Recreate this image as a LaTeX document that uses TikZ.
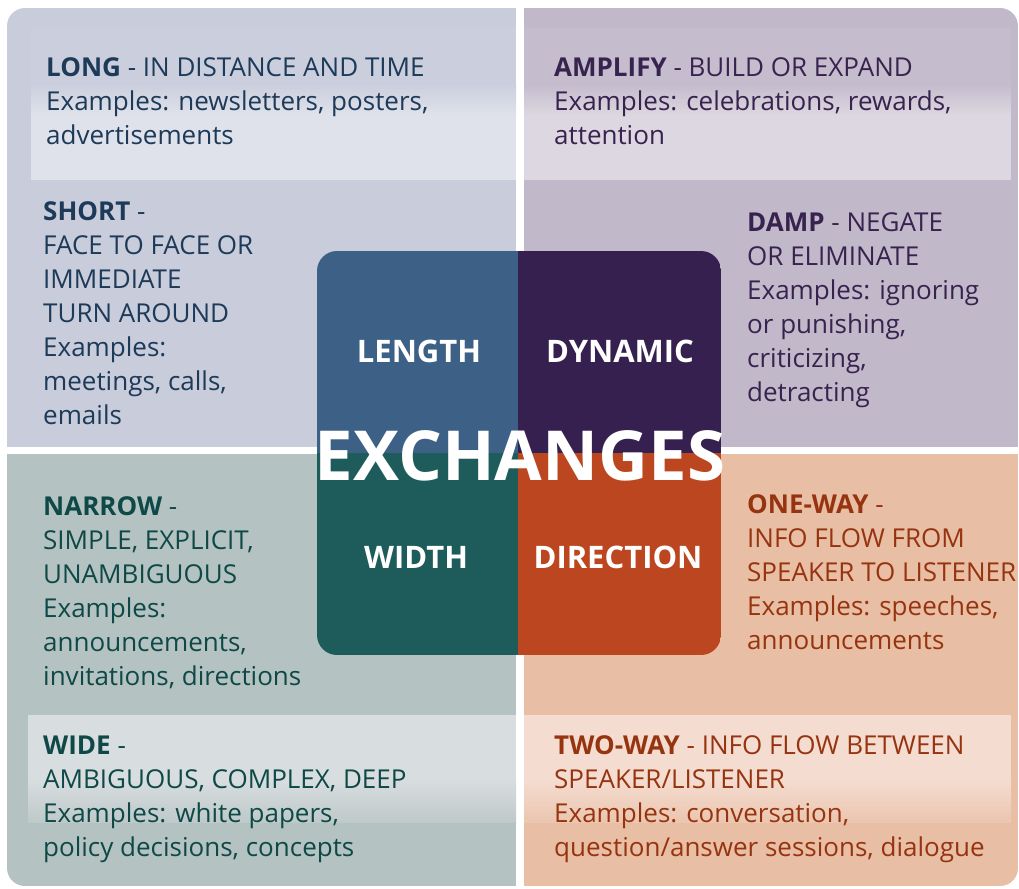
\documentclass[tikz,border=0pt]{standalone}
\usepackage{fontspec}
\setmainfont{Open Sans}
\usetikzlibrary{positioning}
\definecolor{lenpanel}{HTML}{C8CCDB}
\definecolor{lenlight}{HTML}{DFE2EA}
\definecolor{lencore}{HTML}{3D6186}
\definecolor{lentext}{HTML}{1D3A58}
\definecolor{dynpanel}{HTML}{C1B8CA}
\definecolor{dynlight}{HTML}{DCD7E0}
\definecolor{dyncore}{HTML}{352050}
\definecolor{dyntext}{HTML}{38234F}
\definecolor{widpanel}{HTML}{B5C2C2}
\definecolor{widlight}{HTML}{D8DDDF}
\definecolor{widcore}{HTML}{1E5B5B}
\definecolor{widtext}{HTML}{0E4947}
\definecolor{dirpanel}{HTML}{E8BEA5}
\definecolor{dirlight}{HTML}{F4DCD0}
\definecolor{dircore}{HTML}{BC461F}
\definecolor{dirtext}{HTML}{973410}

\begin{document}
\begin{tikzpicture}[x=1pt, y=-1pt,
    info/.style={anchor=base west, align=left, inner sep=0pt, font=\fontsize{26}{34}\selectfont},
    dim/.style={anchor=base, inner sep=0pt, text=white, font=\fontsize{31}{31}\selectfont\bfseries}
]
    \useasboundingbox (0,0) rectangle (1019,888);

    % Quadrant panels
    \begin{scope}
        \clip[rounded corners=18pt] (7,8) rectangle (1018,886);
        \fill[lenpanel] (7,8) rectangle (516,447);
        \fill[dynpanel] (524,8) rectangle (1018,447);
        \fill[widpanel] (7,454) rectangle (516,886);
        \fill[dirpanel] (524,454) rectangle (1018,886);
    \end{scope}

    % Top bands
    \fill[lenlight!15!lenpanel] (31,28) rectangle (516,85);
    \shade[top color=lenlight!15!lenpanel, bottom color=lenlight] (31,85) rectangle (516,115);
    \fill[lenlight] (31,115) rectangle (516,180);
    \fill[dynlight!15!dynpanel] (524,28) rectangle (1011,85);
    \shade[top color=dynlight!15!dynpanel, bottom color=dynlight] (524,85) rectangle (1011,115);
    \fill[dynlight] (524,115) rectangle (1011,180);

    % Bottom bands
    \fill[widlight] (28,715) rectangle (516,780);
    \shade[top color=widlight, bottom color=widlight!25!widpanel] (28,780) rectangle (516,822);
    \fill[dirlight] (524,715) rectangle (1011,780);
    \shade[top color=dirlight, bottom color=dirlight!25!dirpanel] (524,780) rectangle (1011,822);

    % Centre square
    \begin{scope}
        \clip[rounded corners=20pt] (317,251) rectangle (721,655);
        \fill[lencore] (317,251) rectangle (518,453);
        \fill[dyncore] (518,251) rectangle (721,453);
        \fill[widcore] (317,453) rectangle (518,655);
        \fill[dircore] (518,453) rectangle (721,655);
    \end{scope}

    % Length (base = baseline of the last line)
    \node[info, text=lentext] (long) at (46,144)
        {\textbf{LONG} - IN DISTANCE AND TIME\\Examples: newsletters, posters,\\advertisements};
    \node[info, text=lentext] (short) at (43,424)
        {\textbf{SHORT} -\\FACE TO FACE OR\\IMMEDIATE\\TURN AROUND\\Examples:\\meetings, calls,\\emails};

    % Dynamic
    \node[info, text=dyntext] (amplify) at (554,144)
        {\textbf{AMPLIFY} - BUILD OR EXPAND\\Examples: celebrations, rewards,\\attention};
    \node[info, text=dyntext] (damp) at (747,401)
        {\textbf{DAMP} - NEGATE\\OR ELIMINATE\\Examples: ignoring\\or punishing,\\criticizing,\\detracting};

    % Width
    \node[info, text=widtext] (narrow) at (43,685)
        {\textbf{NARROW} -\\SIMPLE, EXPLICIT,\\UNAMBIGUOUS\\Examples:\\announcements,\\invitations, directions};
    \node[info, text=widtext] (wide) at (43,856)
        {\textbf{WIDE} -\\AMBIGUOUS, COMPLEX, DEEP\\Examples: white papers,\\policy decisions, concepts};

    % Direction
    \node[info, text=dirtext] (oneway) at (747,649)
        {\textbf{ONE-WAY} -\\INFO FLOW FROM\\SPEAKER TO LISTENER\\Examples: speeches,\\announcements};
    \node[info, text=dirtext] (twoway) at (554,856)
        {\textbf{TWO-WAY} - INFO FLOW BETWEEN\\SPEAKER/LISTENER\\Examples: conversation,\\question/answer sessions, dialogue};

    % Centre labels
    \node[dim] (length) at (419,362) {LENGTH};
    \node[dim] (dynamic) at (620,362) {DYNAMIC};
    \node[dim] (width) at (416,568) {WIDTH};
    \node[dim] (direction) at (618,568) {DIRECTION};
    \node[dim, font=\fontsize{69}{69}\selectfont\bfseries] (exchanges) at (520,480) {EXCHANGES};
\end{tikzpicture}
\end{document}
